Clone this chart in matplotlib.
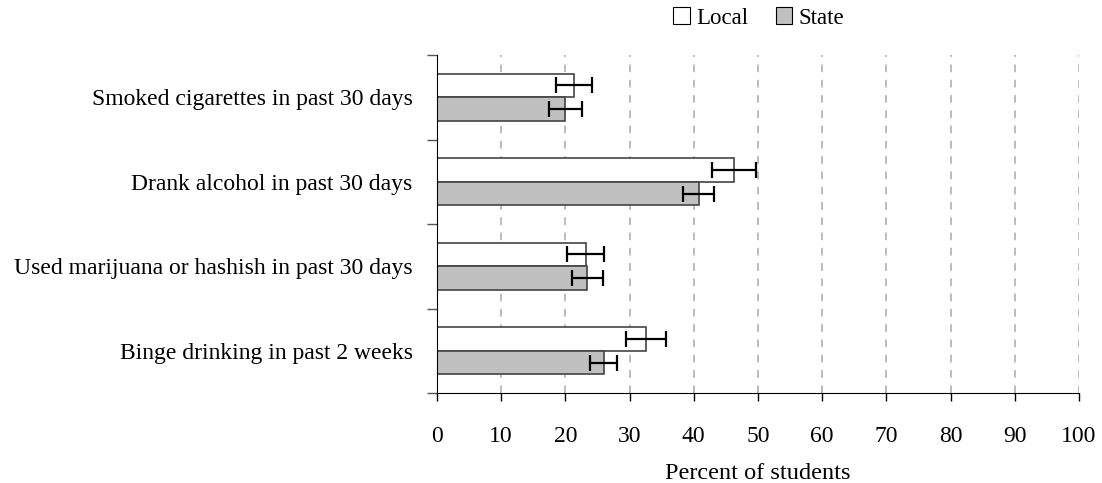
import numpy as np
import matplotlib.pyplot as plt
from matplotlib.patches import Patch

plt.rcParams['font.family'] = ['Liberation Serif', 'DejaVu Serif']

categories = ["Smoked cigarettes in past 30 days",
              "Drank alcohol in past 30 days",
              "Used marijuana or hashish in past 30 days",
              "Binge drinking in past 2 weeks"]

local = [21.4, 46.2, 23.2, 32.6]
local_lo = [18.6, 42.8, 20.2, 29.4]
local_hi = [24.1, 49.7, 26.0, 35.7]

state = [20.0, 40.8, 23.4, 26.0]
state_lo = [17.4, 38.3, 21.1, 23.8]
state_hi = [22.6, 43.2, 25.8, 28.0]

xticks = [0, 10, 20, 30, 40, 50, 60, 70, 80, 90, 100]

fig = plt.figure(figsize=(11.02, 4.83), dpi=100)
ax = fig.add_axes([437/1102, 1-393/483, 642/1102, 338/483])

y = np.arange(len(categories))
h = 0.28

local = np.array(local); state = np.array(state)
lerr = [local - np.array(local_lo), np.array(local_hi) - local]
serr = [state - np.array(state_lo), np.array(state_hi) - state]

# grid first so bars sit on top
for t in xticks[1:]:
    ax.axvline(t, color="#aaaaaa", linestyle=(0, (5, 5)), linewidth=1.1, zorder=0)

ax.barh(y - h/2, local, height=h, color="white", edgecolor="#444444", linewidth=1.2, zorder=2)
ax.barh(y + h/2, state, height=h, color="#c0c0c0", edgecolor="#444444", linewidth=1.2, zorder=2)
ax.errorbar(local, y - h/2, xerr=lerr, fmt="none", ecolor="black", elinewidth=1.6,
            capsize=6, capthick=1.6, zorder=3)
ax.errorbar(state, y + h/2, xerr=serr, fmt="none", ecolor="black", elinewidth=1.6,
            capsize=6, capthick=1.6, zorder=3)

ax.set_xlim(0, 100)
ax.set_ylim(3.5, -0.5)
ax.set_xticks(xticks)
ax.tick_params(axis="x", labelsize=17, length=6, width=1, pad=18)

ax.set_yticks([-0.5, 0.5, 1.5, 2.5, 3.5])
ax.set_yticklabels([])
ax.set_yticks(y, minor=True)
ax.set_yticklabels(categories, minor=True, fontsize=17)
ax.tick_params(axis="y", which="major", length=7, width=1, color="#555555")
ax.tick_params(axis="y", which="minor", length=0, pad=17.5)

ax.spines["top"].set_visible(False)
ax.spines["right"].set_visible(False)

ax.set_xlabel("Percent of students", fontsize=17.5, labelpad=11)

handles = [Patch(facecolor="white", edgecolor="black", linewidth=0.8, label="Local"),
           Patch(facecolor="#c0c0c0", edgecolor="black", linewidth=0.8, label="State")]
fig.legend(handles=handles, loc="center", bbox_to_anchor=(759/1102, 1-18/483), ncol=2,
           frameon=False, fontsize=16.5, handlelength=0.7, handleheight=0.7,
           handletextpad=0.3, columnspacing=1.2)

fig.savefig("out.png", dpi=100)
